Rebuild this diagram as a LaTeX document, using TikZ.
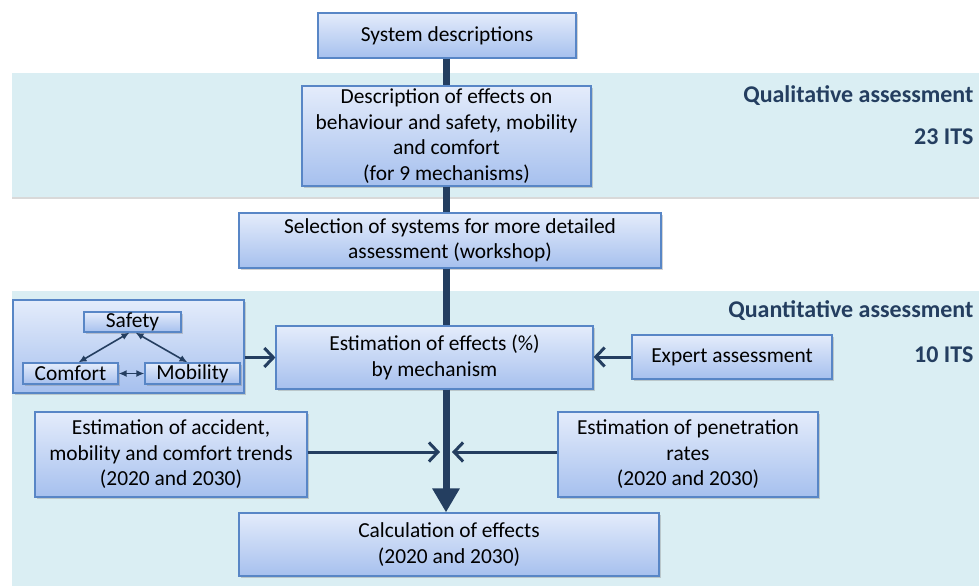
\documentclass[tikz,border=0pt]{standalone}
\usepackage{fontspec}
\setmainfont{Carlito}
\usetikzlibrary{arrows.meta,shadows}

\definecolor{bandblue}{RGB}{218,238,243}
\definecolor{boxtop}{RGB}{228,236,251}
\definecolor{boxbot}{RGB}{166,192,238}
\definecolor{boxline}{RGB}{88,134,198}
\definecolor{navy}{RGB}{36,62,96}

\tikzset{
  box/.style={rectangle,draw=boxline,line width=1.2pt,top color=boxtop,
    bottom color=boxbot,align=center,inner sep=0pt,
    drop shadow={shadow xshift=1.5pt,shadow yshift=-1.5pt,opacity=.35}},
  band/.style={fill=bandblue},
  trunk/.style={draw=navy,line width=7pt},
  feed/.style={draw=navy,line width=3pt,-{Straight Barb[length=9pt,width=19pt,line width=3pt]}},
  link/.style={draw=navy,line width=1.6pt,{Latex[length=8pt,width=7pt]}-{Latex[length=8pt,width=7pt]}},
  tag/.style={anchor=east,text=navy,font=\fontsize{24}{28}\selectfont\bfseries}
}

\begin{document}
\begin{tikzpicture}[x=1pt,y=-1pt,font=\fontsize{21.4}{25.5}\selectfont]
\useasboundingbox (0,0) rectangle (979,586);

% background bands
\fill[band,drop shadow={shadow xshift=0pt,shadow yshift=-1.5pt,opacity=.3}] (12,73) rectangle (979,197);
\fill[band] (12,291) rectangle (979,586);

\node[tag] (qual) at (977,96) {Qualitative assessment};
\node[tag] (qualn) at (977,137) {23 ITS};
\node[tag] (quan) at (977,311) {Quantitative assessment};
\node[tag] (quann) at (977,355) {10 ITS};

\coordinate (axis) at (446,0);

% main chain
\node[box,minimum width=258pt,minimum height=45pt] (sys) at (447,35.5) {System descriptions};
\node[box,minimum width=289pt,minimum height=100pt] (desc) at (446.5,136)
  {Description of effects on\\behaviour and safety, mobility\\and comfort\\(for 9 mechanisms)};
\node[box,minimum width=422pt,minimum height=55pt] (sel) at (450,240.5)
  {Selection of systems for more detailed\\assessment (workshop)};
\node[box,minimum width=317pt,minimum height=63pt] (est) at (434.5,357.5)
  {Estimation of effects (\%)\\by mechanism};
\node[box,minimum width=420pt,minimum height=63pt] (calc) at (449,544.5)
  {Calculation of effects\\(2020 and 2030)};

% side inputs
\node[box,minimum width=231pt,minimum height=93pt] (triad) at (128.5,346.5) {};
\node[box,minimum width=97pt,minimum height=20pt] (safety) at (132.5,322) {Safety};
\node[box,minimum width=95pt,minimum height=21pt] (comfort) at (70.5,373.5) {Comfort};
\node[box,minimum width=95pt,minimum height=21pt] (mobility) at (192.5,373.5) {Mobility};
\node[box,minimum width=200pt,minimum height=44pt] (expert) at (732,357) {Expert assessment};
\node[box,minimum width=272pt,minimum height=85pt] (acc) at (171,454.5)
  {Estimation of accident,\\mobility and comfort trends\\(2020 and 2030)};
\node[box,minimum width=260pt,minimum height=85pt] (pen) at (688,454.5)
  {Estimation of penetration\\rates\\(2020 and 2030)};

\coordinate (join) at (446,452);

% connectors
\draw[trunk] (sys.south -| axis) -- (desc.north -| axis);
\draw[trunk] (desc.south -| axis) -- (sel.north -| axis);
\draw[trunk] (sel.south -| axis) -- (est.north -| axis);
\draw[trunk,-{Triangle[length=24pt,width=26pt]}] (est.south -| axis) -- (calc.north -| axis);

\draw[link] ([xshift=-3pt]safety.south) -- ([xshift=8pt]comfort.north);
\draw[link] ([xshift=3pt]safety.south) -- ([xshift=-5pt]mobility.north);
\draw[link] (comfort.east) -- (mobility.west);

\draw[feed] (triad.east |- est) -- (est.west);
\draw[feed] (expert.west) -- (est.east |- expert);
\draw[feed] (acc.east |- join) -- ([xshift=-6pt]join);
\draw[feed] (pen.west |- join) -- ([xshift=6pt]join);
\end{tikzpicture}
\end{document}
